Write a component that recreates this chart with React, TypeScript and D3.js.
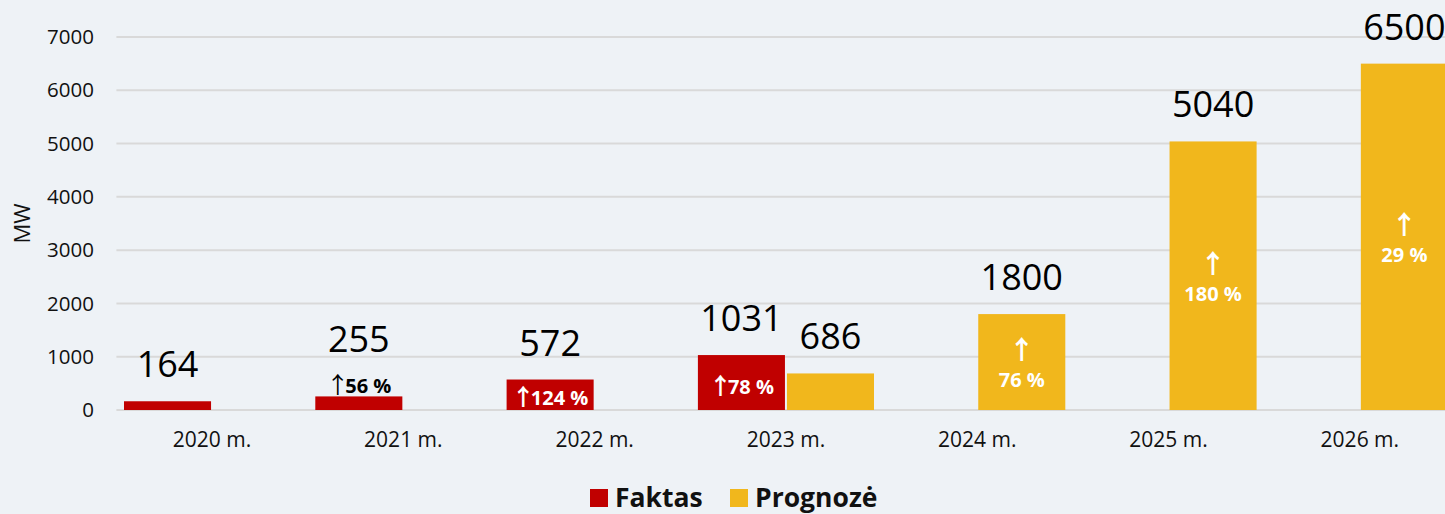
import React from "react";
import * as d3 from "d3";

const categories = ["2020 m.", "2021 m.", "2022 m.", "2023 m.", "2024 m.", "2025 m.", "2026 m."];
const seriesNames = ["Faktas", "Prognozė"];
const faktas: (number | null)[] = [164, 255, 572, 1031, null, null, null];
const prognoze: (number | null)[] = [null, null, null, 686, 1800, 5040, 6500];
const faktasGrowth: (string | null)[] = [null, "56 %", "124 %", "78 %", null, null, null];
const prognozeGrowth: (string | null)[] = [null, null, null, null, "76 %", "180 %", "29 %"];
const yTicks = [0, 1000, 2000, 3000, 4000, 5000, 6000, 7000];
const yLabel = "MW";

const W = 1445;
const H = 514;
const COLORS = ["#C00000", "#F1B71C"];
const BG = "#EEF2F6";
const FONT = "'Open Sans', 'Noto Sans', 'DejaVu Sans', sans-serif";
const ARROW_FONT = "'Noto Sans CJK SC', 'DejaVu Sans', sans-serif";

export default function App() {
  const step = 191.3;
  const x0 = 116.4;
  const x = d3.scaleBand<string>().domain(categories).range([x0, x0 + step * categories.length]).paddingInner(0).paddingOuter(0);
  const xSub = d3.scaleBand<string>().domain(seriesNames).range([7.6, x.bandwidth() - 7.6]).paddingInner(0.0225).paddingOuter(0);
  const y = d3.scaleLinear().domain([0, 7000]).range([410, 37]);
  const bw = xSub.bandwidth();
  const series = [faktas, prognoze];
  const growth = [faktasGrowth, prognozeGrowth];

  return (
    <div style={{ position: "absolute", left: 0, top: 0, width: W, height: H, background: BG }}>
      <svg width={W} height={H} style={{ display: "block", fontFamily: FONT }}>
        <rect x={0} y={0} width={W} height={H} fill={BG} />
        {/* grid */}
        {yTicks.map((t) => (
          <line key={t} x1={x0} x2={W + 20} y1={y(t)} y2={y(t)} stroke="#D9D9D9" strokeWidth={2} />
        ))}
        {/* y tick labels */}
        {yTicks.map((t) => (
          <text key={"yl" + t} x={94} y={y(t)} dy="0.35em" textAnchor="end" fontSize={20.5} fill="#111">
            {t}
          </text>
        ))}
        <text transform={`translate(30,${y(3500)}) rotate(-90)`} textAnchor="middle" fontSize={22} fill="#111">
          {yLabel}
        </text>
        {/* x labels */}
        {categories.map((c) => (
          <text key={"xl" + c} x={(x(c) as number) + x.bandwidth() / 2} y={447} textAnchor="middle" fontSize={21} fill="#111">
            {c}
          </text>
        ))}
        {/* bars */}
        {series.map((vals, si) =>
          vals.map((v, i) => {
            if (v == null) return null;
            const c = categories[i];
            const bx = (x(c) as number) + (xSub(seriesNames[si]) as number);
            const g = growth[si][i];
            const outsideGrowth = si === 0 && g != null && y(0) - y(v) <= 22;
            return (
              <g key={si + "-" + i}>
                <rect x={bx} y={y(v)} width={bw} height={y(0) - y(v)} fill={COLORS[si]} />
                <text x={bx + bw / 2} y={y(v) - (outsideGrowth ? 44 : 24)} textAnchor="middle" fontSize={36} fill="#000">
                  {v}
                </text>
              </g>
            );
          })
        )}
        {/* growth labels: Faktas */}
        {faktasGrowth.map((g, i) => {
          const v = faktas[i];
          if (g == null || v == null) return null;
          const c = categories[i];
          const bx = (x(c) as number) + (xSub(seriesNames[0]) as number);
          const inside = y(0) - y(v) > 22;
          const color = inside ? "#fff" : "#000";
          const ty = inside ? Math.min(y(0) - 5, (y(v) + y(0)) / 2 + 11) : y(v) - 3;
          return (
            <text key={"fg" + i} x={bx + bw / 2} y={ty} textAnchor="middle" fontSize={20} fontWeight={700} fill={color}>
              <tspan fontFamily={ARROW_FONT} fontWeight={inside ? 700 : 400} fontSize={23} letterSpacing={-4}>↑</tspan>
              {g}
            </text>
          );
        })}
        {/* growth labels: Prognozė */}
        {prognozeGrowth.map((g, i) => {
          const v = prognoze[i];
          if (g == null || v == null) return null;
          const c = categories[i];
          const bx = (x(c) as number) + (xSub(seriesNames[1]) as number);
          const mid = (y(v) + y(0)) / 2;
          return (
            <g key={"pg" + i}>
              <text x={bx + bw / 2} y={mid - 3} textAnchor="middle" fontSize={26} fill="#fff" fontFamily={ARROW_FONT} fontWeight={700}>
                ↑
              </text>
              <text x={bx + bw / 2} y={mid + 25} textAnchor="middle" fontSize={20} fontWeight={700} fill="#fff">
                {g}
              </text>
            </g>
          );
        })}
        {/* legend */}
        <g>
          <rect x={590} y={489} width={18} height={18} fill={COLORS[0]} />
          <text x={615} y={507} fontSize={26.5} fontWeight={700} fill="#111">
            {seriesNames[0]}
          </text>
          <rect x={730} y={489} width={18} height={18} fill={COLORS[1]} />
          <text x={755} y={507} fontSize={26.5} fontWeight={700} fill="#111">
            {seriesNames[1]}
          </text>
        </g>
      </svg>
    </div>
  );
}
